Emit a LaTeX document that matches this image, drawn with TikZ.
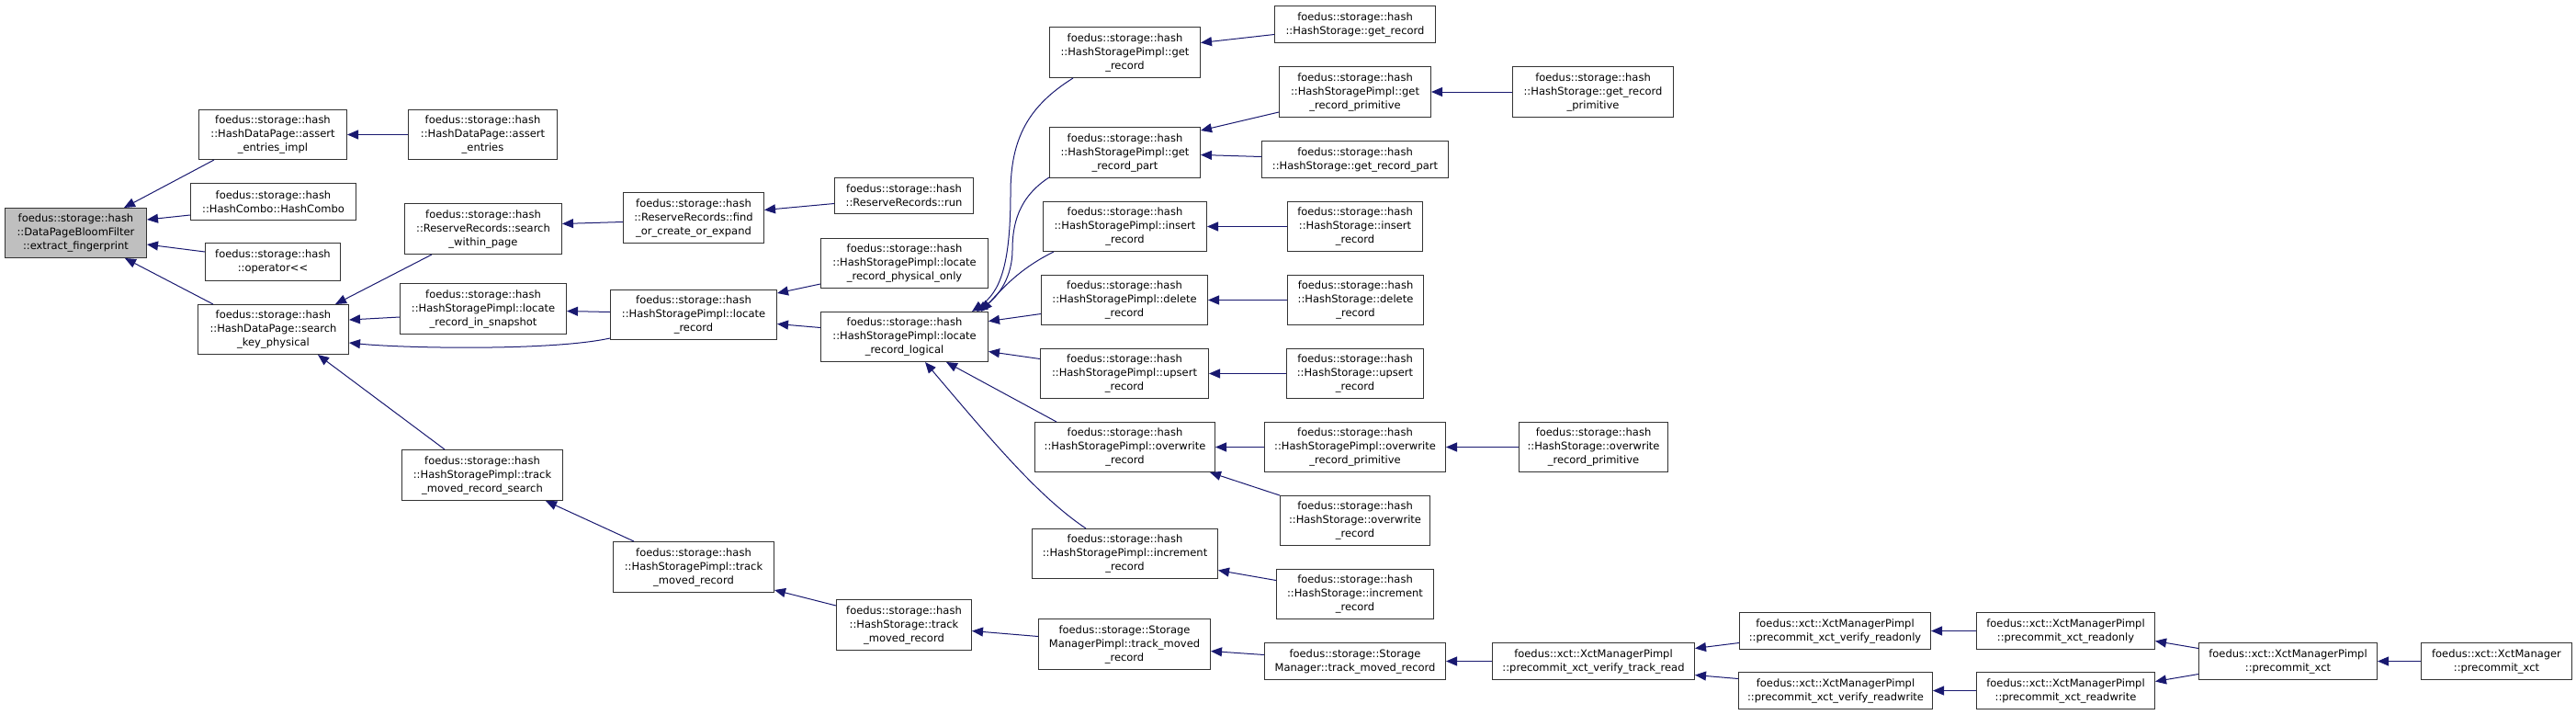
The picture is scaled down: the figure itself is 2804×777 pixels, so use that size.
\documentclass[tikz,border=0pt]{standalone}
\usepackage{fontspec}
\setmainfont{DejaVu Sans}
\usepackage{xcolor}
\definecolor{cEdge}{HTML}{191970}
\definecolor{cBorder}{HTML}{333333}
\definecolor{cFocus}{HTML}{BFBFBF}
\usepackage{tikz}
\usetikzlibrary{arrows.meta}
\tikzset{
  node-fn/.style={draw=cBorder,line width=1pt,fill=white,anchor=north west,
    inner sep=0pt,align=center,font=\fontsize{11.5}{15}\selectfont},
  node-focus/.style={node-fn,fill=cFocus},
  % caller -> callee, tip sits on the called function
  arrow-call/.style={-{Triangle[length=12pt,width=10pt]},line width=1pt,draw=cEdge},
}

\begin{document}
\begin{tikzpicture}[x=1pt,y=-1pt]
  \useasboundingbox (0,0) rectangle (2804,777);
  % rank 0-1
  \node[node-focus,minimum width=154pt,minimum height=54pt] (root) at (5,226)
    {foedus::storage::hash\\::DataPageBloomFilter\\::extract\_fingerprint};
  \node[node-fn,minimum width=161pt,minimum height=54pt] (assertimpl) at (216,119)
    {foedus::storage::hash\\::HashDataPage::assert\\\_entries\_impl};
  \node[node-fn,minimum width=180pt,minimum height=40pt] (hashcombo) at (207,199)
    {foedus::storage::hash\\::HashCombo::HashCombo};
  \node[node-fn,minimum width=147pt,minimum height=41pt] (oplshift) at (223,264)
    {foedus::storage::hash\\::operator<\kern0pt<};
  \node[node-fn,minimum width=164pt,minimum height=54pt] (searchkey) at (215,331)
    {foedus::storage::hash\\::HashDataPage::search\\\_key\_physical};
  % rank 2-4
  \node[node-fn,minimum width=162pt,minimum height=54pt] (assertentries) at (444,119)
    {foedus::storage::hash\\::HashDataPage::assert\\\_entries};
  \node[node-fn,minimum width=171pt,minimum height=55pt] (withinpage) at (440,221)
    {foedus::storage::hash\\::ReserveRecords::search\\\_within\_page};
  \node[node-fn,minimum width=181pt,minimum height=55pt] (insnapshot) at (435,308)
    {foedus::storage::hash\\::HashStoragePimpl::locate\\\_record\_in\_snapshot};
  \node[node-fn,minimum width=175pt,minimum height=55pt] (movedsearch) at (437,489)
    {foedus::storage::hash\\::HashStoragePimpl::track\\\_moved\_record\_search};
  \node[node-fn,minimum width=153pt,minimum height=55pt] (findorcreate) at (678,209)
    {foedus::storage::hash\\::ReserveRecords::find\\\_or\_create\_or\_expand};
  \node[node-fn,minimum width=181pt,minimum height=54pt] (locaterec) at (664,315)
    {foedus::storage::hash\\::HashStoragePimpl::locate\\\_record};
  \node[node-fn,minimum width=175pt,minimum height=55pt] (pimplmoved) at (667,589)
    {foedus::storage::hash\\::HashStoragePimpl::track\\\_moved\_record};
  \node[node-fn,minimum width=151pt,minimum height=39pt] (rrrun) at (908,193)
    {foedus::storage::hash\\::ReserveRecords::run};
  \node[node-fn,minimum width=182pt,minimum height=54pt] (physonly) at (893,259)
    {foedus::storage::hash\\::HashStoragePimpl::locate\\\_record\_physical\_only};
  \node[node-fn,minimum width=182pt,minimum height=54pt] (logical) at (893,339)
    {foedus::storage::hash\\::HashStoragePimpl::locate\\\_record\_logical};
  \node[node-fn,minimum width=147pt,minimum height=55pt] (storagemoved) at (910,652)
    {foedus::storage::hash\\::HashStorage::track\\\_moved\_record};
  % rank 5
  \node[node-fn,minimum width=164pt,minimum height=55pt] (pgetrec) at (1142,29)
    {foedus::storage::hash\\::HashStoragePimpl::get\\\_record};
  \node[node-fn,minimum width=164pt,minimum height=55pt] (pgetpart) at (1142,138)
    {foedus::storage::hash\\::HashStoragePimpl::get\\\_record\_part};
  \node[node-fn,minimum width=178pt,minimum height=54pt] (pinsert) at (1135,219)
    {foedus::storage::hash\\::HashStoragePimpl::insert\\\_record};
  \node[node-fn,minimum width=181pt,minimum height=54pt] (pdelete) at (1133,299)
    {foedus::storage::hash\\::HashStoragePimpl::delete\\\_record};
  \node[node-fn,minimum width=183pt,minimum height=54pt] (pupsert) at (1132,379)
    {foedus::storage::hash\\::HashStoragePimpl::upsert\\\_record};
  \node[node-fn,minimum width=196pt,minimum height=54pt] (poverwrite) at (1126,459)
    {foedus::storage::hash\\::HashStoragePimpl::overwrite\\\_record};
  \node[node-fn,minimum width=202pt,minimum height=54pt] (pincrement) at (1123,575)
    {foedus::storage::hash\\::HashStoragePimpl::increment\\\_record};
  \node[node-fn,minimum width=187pt,minimum height=55pt] (mgrpimplmoved) at (1130,673)
    {foedus::storage::Storage\\ManagerPimpl::track\_moved\\\_record};
  % rank 6-7
  \node[node-fn,minimum width=175pt,minimum height=40pt] (sgetrec) at (1387,6)
    {foedus::storage::hash\\::HashStorage::get\_record};
  \node[node-fn,minimum width=165pt,minimum height=55pt] (pgetprim) at (1392,72)
    {foedus::storage::hash\\::HashStoragePimpl::get\\\_record\_primitive};
  \node[node-fn,minimum width=203pt,minimum height=40pt] (sgetpart) at (1373,153)
    {foedus::storage::hash\\::HashStorage::get\_record\_part};
  \node[node-fn,minimum width=147pt,minimum height=54pt] (sinsert) at (1401,219)
    {foedus::storage::hash\\::HashStorage::insert\\\_record};
  \node[node-fn,minimum width=148pt,minimum height=54pt] (sdelete) at (1401,299)
    {foedus::storage::hash\\::HashStorage::delete\\\_record};
  \node[node-fn,minimum width=149pt,minimum height=54pt] (supsert) at (1400,379)
    {foedus::storage::hash\\::HashStorage::upsert\\\_record};
  \node[node-fn,minimum width=197pt,minimum height=54pt] (poverprim) at (1376,459)
    {foedus::storage::hash\\::HashStoragePimpl::overwrite\\\_record\_primitive};
  \node[node-fn,minimum width=163pt,minimum height=54pt] (soverwrite) at (1393,539)
    {foedus::storage::hash\\::HashStorage::overwrite\\\_record};
  \node[node-fn,minimum width=171pt,minimum height=54pt] (sincrement) at (1389,619)
    {foedus::storage::hash\\::HashStorage::increment\\\_record};
  \node[node-fn,minimum width=197pt,minimum height=40pt] (mgrmoved) at (1376,699)
    {foedus::storage::Storage\\Manager::track\_moved\_record};
  \node[node-fn,minimum width=175pt,minimum height=55pt] (sgetprim) at (1646,72)
    {foedus::storage::hash\\::HashStorage::get\_record\\\_primitive};
  \node[node-fn,minimum width=162pt,minimum height=54pt] (soverprim) at (1653,459)
    {foedus::storage::hash\\::HashStorage::overwrite\\\_record\_primitive};
  % xct chain
  \node[node-fn,minimum width=220pt,minimum height=40pt] (verifyread) at (1624,699)
    {foedus::xct::XctManagerPimpl\\::precommit\_xct\_verify\_track\_read};
  \node[node-fn,minimum width=208pt,minimum height=40pt] (verifyro) at (1893,666)
    {foedus::xct::XctManagerPimpl\\::precommit\_xct\_verify\_readonly};
  \node[node-fn,minimum width=211pt,minimum height=40pt] (verifyrw) at (1892,731)
    {foedus::xct::XctManagerPimpl\\::precommit\_xct\_verify\_readwrite};
  \node[node-fn,minimum width=194pt,minimum height=40pt] (xctro) at (2151,666)
    {foedus::xct::XctManagerPimpl\\::precommit\_xct\_readonly};
  \node[node-fn,minimum width=194pt,minimum height=40pt] (xctrw) at (2151,731)
    {foedus::xct::XctManagerPimpl\\::precommit\_xct\_readwrite};
  \node[node-fn,minimum width=194pt,minimum height=40pt] (xctpimpl) at (2393,699)
    {foedus::xct::XctManagerPimpl\\::precommit\_xct};
  \node[node-fn,minimum width=164pt,minimum height=40pt] (xctmgr) at (2635,699)
    {foedus::xct::XctManager\\::precommit\_xct};

  \draw[arrow-call] ([xshift=17pt]assertimpl.south west) -- ([xshift=-25pt]root.north east);
  \draw[arrow-call] ([yshift=6pt]hashcombo.south west) -- ([yshift=-13pt]root.north east);
  \draw[arrow-call] ([yshift=-10pt]oplshift.north west) -- ([yshift=15pt]root.south east);
  \draw[arrow-call] ([xshift=17pt]searchkey.north west) -- ([xshift=-24pt]root.south east);
  \draw[arrow-call] (assertentries.west) -- (assertimpl.east);
  \draw[arrow-call] ([xshift=30pt]withinpage.south west) -- ([xshift=-15pt]searchkey.north east);
  \draw[arrow-call] ([yshift=19pt]insnapshot.south west) -- ([yshift=-17pt]searchkey.north east);
  \draw[arrow-call] ([yshift=2pt]locaterec.south west) .. controls (600,382) and (440,379)
    .. ([yshift=13pt]searchkey.south east);
  \draw[arrow-call] ([xshift=47pt]movedsearch.north west) -- ([xshift=-34pt]searchkey.south east);
  \draw[arrow-call] ([yshift=-4.5pt]findorcreate.west) -- ([yshift=5.5pt]withinpage.east);
  \draw[arrow-call] ([yshift=3pt]locaterec.west) -- ([yshift=-2.5pt]insnapshot.east);
  \draw[arrow-call] ([xshift=23pt]pimplmoved.north west) -- ([xshift=-19pt]movedsearch.south east);
  \draw[arrow-call] ([yshift=-8.5pt]rrrun.west) -- ([yshift=8.5pt]findorcreate.east);
  \draw[arrow-call] ([yshift=5pt]physonly.south west) -- ([yshift=-4pt]locaterec.north east);
  \draw[arrow-call] ([yshift=10pt]logical.west) -- ([yshift=-10pt]locaterec.east);
  \draw[arrow-call] ([yshift=-7pt]storagemoved.north west) -- ([yshift=3pt]pimplmoved.south east);
  \draw[arrow-call] ([xshift=26pt]pgetrec.south west) .. controls (1120,115) and (1100,150)
    .. (1100,210) .. controls (1100,290) and (1088,318) .. ([xshift=-18pt]logical.north east);
  \draw[arrow-call] ([yshift=1pt]pgetpart.south west) .. controls (1108,215) and (1102,245)
    .. (1102,272) .. controls (1102,300) and (1088,322) .. ([xshift=-13pt]logical.north east);
  \draw[arrow-call] ([xshift=12pt]pinsert.south west) .. controls (1110,292) and (1090,315)
    .. ([xshift=-8pt]logical.north east);
  \draw[arrow-call] ([yshift=-15pt]pdelete.west) -- ([yshift=17pt]logical.east);
  \draw[arrow-call] ([yshift=16pt]pupsert.west) -- ([yshift=-16pt]logical.east);
  \draw[arrow-call] ([xshift=24pt]poverwrite.north west) -- ([xshift=-46pt]logical.south east);
  \draw[arrow-call] ([xshift=59pt]pincrement.north west) .. controls (1130,540) and (1080,480)
    .. ([xshift=-69pt]logical.south east);
  \draw[arrow-call] ([yshift=-11pt]sgetrec.west) -- ([yshift=10.5pt]pgetrec.east);
  \draw[arrow-call] ([yshift=6pt]pgetprim.south west) -- ([yshift=-4pt]pgetpart.north east);
  \draw[arrow-call] ([yshift=3pt]sgetpart.west) -- ([yshift=-2.5pt]pgetpart.east);
  \draw[arrow-call] (sgetprim.west) -- (pgetprim.east);
  \draw[arrow-call] (sinsert.west) -- (pinsert.east);
  \draw[arrow-call] (sdelete.west) -- (pdelete.east);
  \draw[arrow-call] (supsert.west) -- (pupsert.east);
  \draw[arrow-call] (poverprim.west) -- (poverwrite.east);
  \draw[arrow-call] (soverwrite.north west) -- ([xshift=-6pt]poverwrite.south east);
  \draw[arrow-call] (soverprim.west) -- (poverprim.east);
  \draw[arrow-call] ([yshift=15pt]sincrement.west) -- ([yshift=-18pt]pincrement.east);
  \draw[arrow-call] ([yshift=8.5pt]mgrpimplmoved.west) -- ([yshift=-6.5pt]storagemoved.east);
  \draw[arrow-call] ([yshift=7pt]mgrmoved.west) -- ([yshift=-7.5pt]mgrpimplmoved.east);
  \draw[arrow-call] (verifyread.west) -- (mgrmoved.east);
  \draw[arrow-call] ([yshift=-13pt]verifyro.west) -- ([yshift=14pt]verifyread.east);
  \draw[arrow-call] ([yshift=13pt]verifyrw.west) -- ([yshift=-15pt]verifyread.east);
  \draw[arrow-call] (xctro.west) -- (verifyro.east);
  \draw[arrow-call] (xctrw.west) -- (verifyrw.east);
  \draw[arrow-call] ([yshift=14pt]xctpimpl.west) -- ([yshift=-11pt]xctro.east);
  \draw[arrow-call] ([yshift=-14pt]xctpimpl.west) -- ([yshift=10pt]xctrw.east);
  \draw[arrow-call] (xctmgr.west) -- (xctpimpl.east);
\end{tikzpicture}
\end{document}
